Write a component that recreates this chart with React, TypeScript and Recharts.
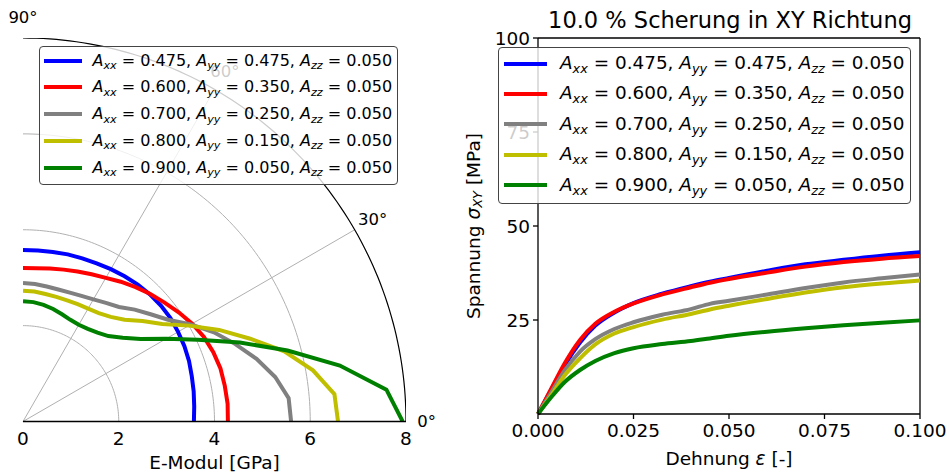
import React from "react";
import {
  Line,
  LineChart,
  ReferenceDot,
  ReferenceLine,
  XAxis,
  YAxis,
} from "recharts";

const FONT = "DejaVu Sans, Verdana, sans-serif";

// orientation angle in degrees (polar plot)
const ANGLES = [0, 5, 10, 15, 20, 25, 30, 35, 40, 45, 50, 55, 60, 65, 70, 75, 80, 85, 90];

// E-Modul [GPa] per angle
const E_BLUE = [3.57, 3.59, 3.62, 3.65, 3.69, 3.72, 3.74, 3.76, 3.76, 3.75, 3.73, 3.7, 3.67, 3.64, 3.62, 3.61, 3.59, 3.58, 3.58];
const E_RED = [4.28, 4.29, 4.28, 4.27, 4.23, 4.17, 4.08, 3.97, 3.86, 3.76, 3.66, 3.56, 3.46, 3.39, 3.33, 3.28, 3.24, 3.21, 3.2];
const E_GRAY = [5.6, 5.57, 5.35, 5.05, 4.72, 4.4, 4.05, 3.7, 3.48, 3.3, 3.12, 3.02, 2.94, 2.89, 2.86, 2.85, 2.86, 2.88, 2.89];
const E_YELLOW = [6.58, 6.53, 6.15, 5.65, 5.05, 4.52, 4.0, 3.55, 3.26, 3.0, 2.85, 2.76, 2.72, 2.7, 2.69, 2.69, 2.7, 2.72, 2.73];
const E_GREEN = [7.93, 7.62, 6.72, 5.72, 4.82, 4.03, 3.45, 3.0, 2.72, 2.52, 2.42, 2.36, 2.33, 2.34, 2.38, 2.43, 2.47, 2.5, 2.51];

// strain / stress curves
const STRAIN = [0, 0.0035, 0.007, 0.011, 0.015, 0.02, 0.025, 0.0325, 0.04, 0.045, 0.05, 0.06, 0.07, 0.08, 0.09, 0.1];
const S_BLUE = [0, 6.5, 13.0, 19.0, 23.5, 27.0, 29.5, 32.0, 34.0, 35.2, 36.2, 38.1, 39.8, 41.0, 42.1, 43.0];
const S_RED = [0, 6.8, 13.5, 19.7, 24.0, 27.2, 29.4, 31.8, 33.7, 34.9, 35.9, 37.6, 39.2, 40.4, 41.3, 42.0];
const S_GRAY = [0, 5.8, 11.6, 16.6, 19.9, 22.6, 24.4, 26.4, 27.9, 29.3, 30.1, 31.8, 33.5, 35.0, 36.1, 37.1];
const S_YELLOW = [0, 5.0, 10.3, 14.8, 18.5, 21.4, 23.1, 25.1, 26.6, 27.8, 28.8, 30.6, 32.3, 33.7, 34.7, 35.5];
const S_GREEN = [0, 4.5, 8.5, 11.7, 14.1, 16.2, 17.5, 18.6, 19.4, 20.1, 20.8, 21.9, 22.8, 23.6, 24.3, 24.9];

const AXX = ["0.475", "0.600", "0.700", "0.800", "0.900"];
const AYY = ["0.475", "0.350", "0.250", "0.150", "0.050"];
const AZZ = ["0.050", "0.050", "0.050", "0.050", "0.050"];
const COLORS = ["#0000ff", "#ff0000", "#808080", "#bfbf00", "#008000"];
const KEYS = ["blue", "red", "gray", "yellow", "green"];

const E_SERIES = [E_BLUE, E_RED, E_GRAY, E_YELLOW, E_GREEN];
const S_SERIES = [S_BLUE, S_RED, S_GRAY, S_YELLOW, S_GREEN];

const R_TICKS = [0, 2, 4, 6, 8];
const GRID_RADII = [2, 4, 6];
const SPOKES = [30, 60];
const ANGLE_LABELS = [0, 30, 60, 90];
const X_TICKS = [0, 0.025, 0.05, 0.075, 0.1];
const Y_TICKS = [25, 50, 75, 100];

const rad = (d: number) => (d * Math.PI) / 180;
const polar = (r: number, a: number) => ({ x: r * Math.cos(rad(a)), y: r * Math.sin(rad(a)) });

const arc = (r: number) => {
  const pts = [];
  for (let a = 0; a <= 90; a += 1) pts.push(polar(r, a));
  return pts;
};

const stressData = STRAIN.map((eps, i) => {
  const row: Record<string, number> = { eps };
  KEYS.forEach((k, j) => (row[k] = S_SERIES[j][i]));
  return row;
});

function LegendLabel({ i }: { i: number }) {
  const sub = { fontSize: "0.7em", position: "relative" as const, top: "0.3em", fontStyle: "italic" };
  const term = (s: string, v: string) => (
    <>
      <span style={{ fontStyle: "italic" }}>A</span>
      <span style={sub}>{s}</span>
      <span>{" = "}{v}</span>
    </>
  );
  return (
    <span style={{ whiteSpace: "pre" }}>
      {term("xx", AXX[i])}, {term("yy", AYY[i])}, {term("zz", AZZ[i])}
    </span>
  );
}

function Legend(p: {
  left: number;
  top: number;
  width: number;
  height: number;
  firstRow: number;
  rowGap: number;
  sampleLeft: number;
  sampleWidth: number;
  textLeft: number;
  fontSize: number;
}) {
  return (
    <div
      style={{
        position: "absolute",
        left: p.left,
        top: p.top,
        width: p.width,
        height: p.height,
        boxSizing: "border-box",
        border: "1px solid #444",
        borderRadius: 4,
        background: "rgba(255,255,255,0.8)",
        fontFamily: FONT,
        fontSize: p.fontSize,
        color: "#000",
      }}
    >
      {COLORS.map((c, i) => {
        const cy = p.firstRow + i * p.rowGap;
        return (
          <div key={c}>
            <div
              style={{
                position: "absolute",
                left: p.sampleLeft,
                top: cy - 2,
                width: p.sampleWidth,
                height: 4,
                background: c,
              }}
            />
            <div
              style={{
                position: "absolute",
                left: p.textLeft,
                top: cy - p.fontSize * 0.62,
                lineHeight: `${p.fontSize * 1.2}px`,
              }}
            >
              <LegendLabel i={i} />
            </div>
          </div>
        );
      })}
    </div>
  );
}

function PolarChart() {
  return (
    <LineChart width={470} height={475} margin={{ top: 38, right: 64, bottom: 0, left: 23 }}>
      <XAxis
        dataKey="x"
        type="number"
        domain={[0, 8]}
        ticks={R_TICKS}
        allowDataOverflow
        tickLine={false}
        tickSize={0}
        tickMargin={10}
        height={53.5}
        axisLine={{ stroke: "#000", strokeWidth: 1.3 }}
        tick={{ fontSize: 18.5, fill: "#000", fontFamily: FONT }}
        label={{
          value: "E-Modul [GPa]",
          position: "insideBottom",
          offset: 6,
          fontSize: 18.5,
          fill: "#000",
          fontFamily: FONT,
        }}
      />
      <YAxis
        dataKey="y"
        type="number"
        domain={[0, 8]}
        allowDataOverflow
        width={0}
        tick={false}
        tickLine={false}
        axisLine={{ stroke: "#000", strokeWidth: 1.3 }}
      />
      {GRID_RADII.map((r) => (
        <Line
          key={`grid${r}`}
          data={arc(r)}
          dataKey="y"
          type="linear"
          stroke="#b0b0b0"
          strokeWidth={1}
          dot={false}
          activeDot={false}
          isAnimationActive={false}
        />
      ))}
      {SPOKES.map((a) => (
        <ReferenceLine
          key={`spoke${a}`}
          segment={[{ x: 0, y: 0 }, polar(8, a)]}
          stroke="#b0b0b0"
          strokeWidth={1}
        />
      ))}
      <Line
        data={arc(8)}
        dataKey="y"
        type="linear"
        stroke="#000"
        strokeWidth={1.2}
        dot={false}
        activeDot={false}
        isAnimationActive={false}
      />
      {E_SERIES.map((e, j) => (
        <Line
          key={KEYS[j]}
          data={ANGLES.map((a, i) => polar(e[i], a))}
          dataKey="y"
          type="linear"
          stroke={COLORS[j]}
          strokeWidth={4}
          dot={false}
          activeDot={false}
          isAnimationActive={false}
        />
      ))}
      {ANGLE_LABELS.map((a) => {
        const p = polar(8.43, a);
        return (
          <ReferenceDot
            key={`lab${a}`}
            x={p.x}
            y={p.y}
            r={0}
            fill="none"
            stroke="none"
            ifOverflow="visible"
            label={{ value: `${a}°`, position: "center", fontSize: 16.5, fill: "#000", fontFamily: FONT }}
          />
        );
      })}
    </LineChart>
  );
}

function YLabel({ viewBox }: any) {
  const x = viewBox.x + 13;
  const y = viewBox.y + viewBox.height / 2;
  return (
    <text
      x={x}
      y={y}
      transform={`rotate(-90 ${x} ${y})`}
      textAnchor="middle"
      dominantBaseline="central"
      fontFamily={FONT}
      fontSize={18.5}
      fill="#000"
    >
      <tspan>Spannung </tspan>
      <tspan fontStyle="italic">σ</tspan>
      <tspan fontStyle="italic" fontSize={13} dy={4}>
        XY
      </tspan>
      <tspan dy={-4}> [MPa]</tspan>
    </text>
  );
}

function XLabel({ viewBox }: any) {
  const x = viewBox.x + viewBox.width / 2;
  const y = viewBox.y + viewBox.height - 10;
  return (
    <text x={x} y={y} textAnchor="middle" fontFamily={FONT} fontSize={18.5} fill="#000">
      <tspan>Dehnung </tspan>
      <tspan fontStyle="italic">ε</tspan>
      <tspan> [-]</tspan>
    </text>
  );
}

function StressChart() {
  return (
    <LineChart width={489} height={475} data={stressData} margin={{ top: 38, right: 29, bottom: 0, left: 0 }}>
      <XAxis
        dataKey="eps"
        type="number"
        domain={[0, 0.1]}
        ticks={X_TICKS}
        tickFormatter={(v: number) => v.toFixed(3)}
        height={61}
        tickSize={5}
        tickMargin={5}
        axisLine={{ stroke: "#000", strokeWidth: 1.3 }}
        tickLine={{ stroke: "#000", strokeWidth: 1.3 }}
        tick={{ fontSize: 18.5, fill: "#000", fontFamily: FONT }}
        label={<XLabel />}
      />
      <YAxis
        type="number"
        domain={[0, 100]}
        ticks={Y_TICKS}
        width={78}
        tickSize={5}
        tickMargin={3}
        axisLine={{ stroke: "#000", strokeWidth: 1.3 }}
        tickLine={{ stroke: "#000", strokeWidth: 1.3 }}
        tick={{ fontSize: 18.5, fill: "#000", fontFamily: FONT }}
        label={<YLabel />}
      />
      <ReferenceLine y={100} stroke="#000" strokeWidth={1.3} />
      <ReferenceLine x={0.1} stroke="#000" strokeWidth={1.3} />
      {KEYS.map((k, j) => (
        <Line
          key={k}
          dataKey={k}
          type="monotone"
          stroke={COLORS[j]}
          strokeWidth={4}
          dot={false}
          activeDot={false}
          isAnimationActive={false}
        />
      ))}
    </LineChart>
  );
}

export default function App() {
  return (
    <div style={{ position: "absolute", left: 0, top: 0, width: 949, height: 475, background: "#fff" }}>
      <div style={{ position: "absolute", left: 0, top: 0 }}>
        <PolarChart />
      </div>
      <div style={{ position: "absolute", left: 460, top: 0 }}>
        <StressChart />
      </div>
      <div
        style={{
          position: "absolute",
          left: 460,
          width: 540,
          top: 5,
          textAlign: "center",
          fontFamily: FONT,
          fontSize: 22.5,
          lineHeight: "30px",
          color: "#000",
        }}
      >
        10.0 % Scherung in XY Richtung
      </div>
      <Legend
        left={39}
        top={46}
        width={359}
        height={139}
        firstRow={13.5}
        rowGap={26.85}
        sampleLeft={4}
        sampleWidth={38}
        textLeft={52.5}
        fontSize={16}
      />
      <Legend
        left={498}
        top={47}
        width={413}
        height={157}
        firstRow={15.5}
        rowGap={30.4}
        sampleLeft={5}
        sampleWidth={43}
        textLeft={61}
        fontSize={18.4}
      />
    </div>
  );
}
